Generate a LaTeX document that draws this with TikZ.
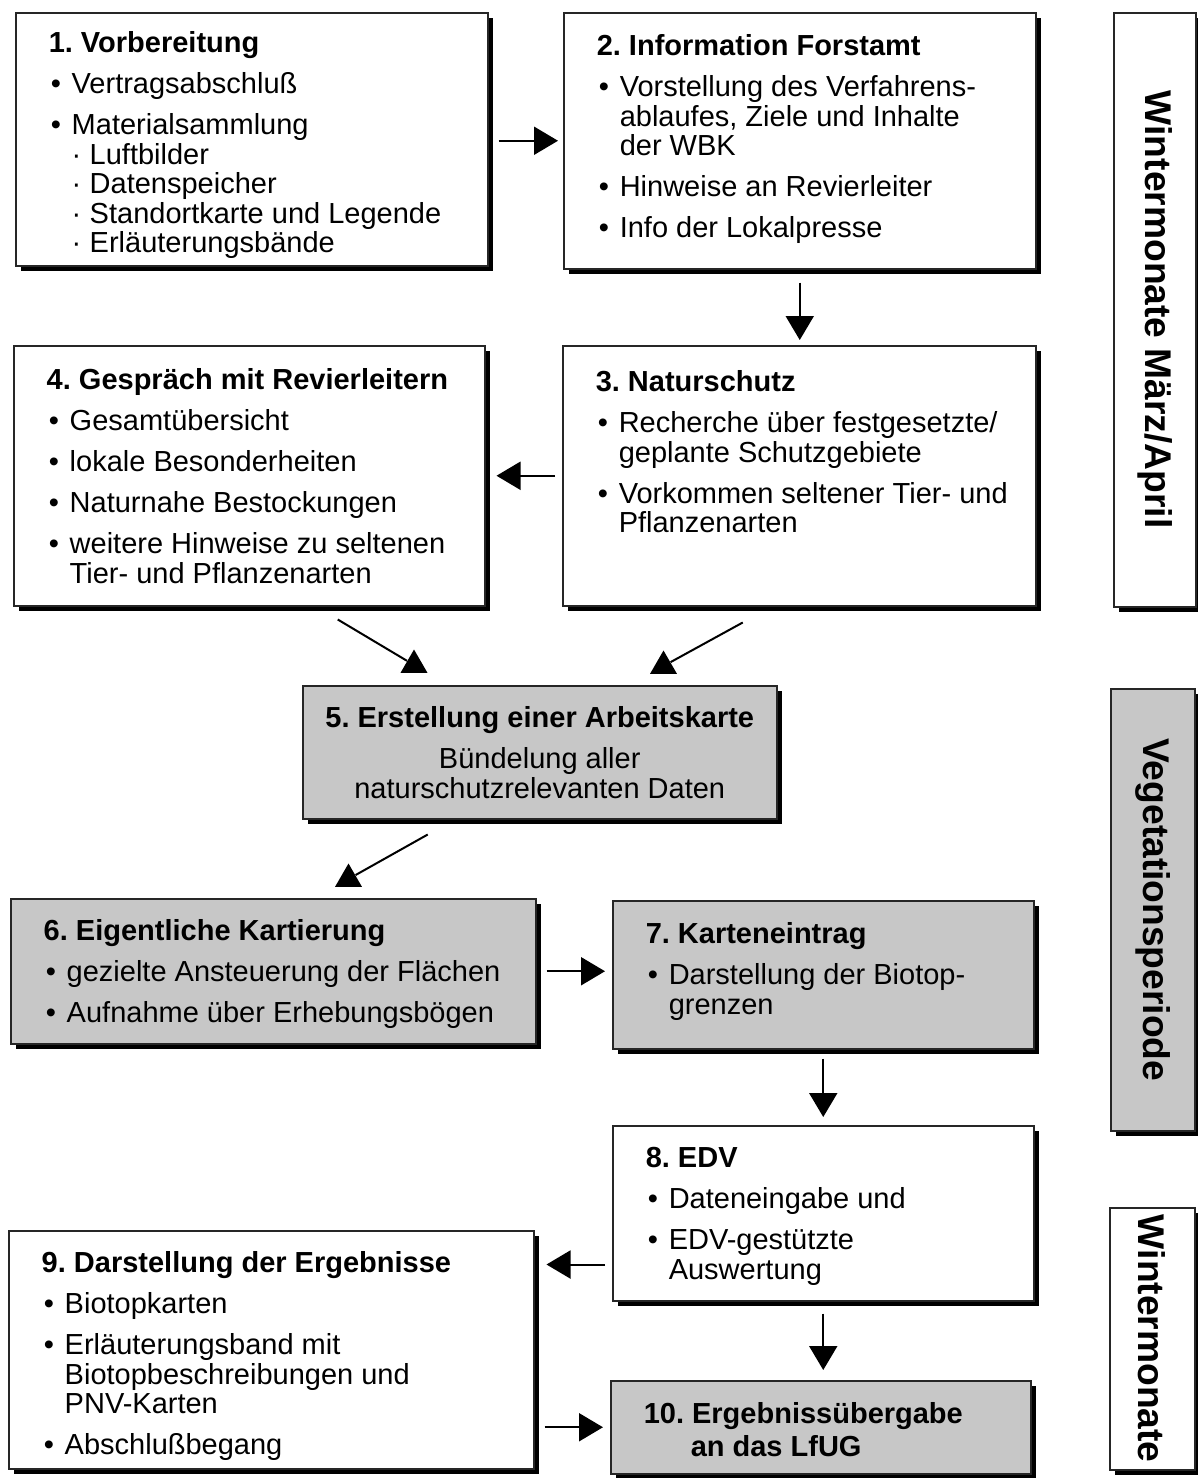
\documentclass[tikz,border=0pt]{standalone}
\usepackage{fontspec}
\setmainfont{Liberation Sans}
\usetikzlibrary{arrows.meta,shadows,shapes.geometric}

\newdimen\pxu \pxu=0.5pt
\newcommand\panel[4]{\parbox[b][#2\pxu][t]{#1\pxu}{\frenchspacing
  \rightskip=0pt plus 1fil\leftskip=33\pxu
  \fontsize{14.5}{14.75}\selectfont\rule{0pt}{#3\pxu}#4}}
\newcommand\cpanel[4]{\parbox[b][#2\pxu][t]{#1\pxu}{\frenchspacing\centering
  \fontsize{14.5}{14.75}\selectfont\rule{0pt}{#3\pxu}#4}}
\newcommand\itm[1]{\par\vspace{11.5\pxu}\hangindent=23\pxu\hangafter=1
  \hspace*{2\pxu}\makebox[21\pxu][l]{\textbullet}#1}
\newcommand\sub[1]{\par\hspace*{23\pxu}\makebox[18\pxu][l]{·}#1}
\newcommand\sidetext[1]{\rotatebox{-90}{\fontsize{18.6}{20}\selectfont\bfseries #1}}

\begin{document}
\begin{tikzpicture}[x=0.5pt, y=-0.5pt,
  box/.style = {draw=black!85, line width=0.75pt, fill=white,
    anchor=north west, inner sep=0pt,
    drop shadow={shadow xshift=2.75pt, shadow yshift=-2.75pt,
      fill=black, opacity=1}},
  shaded/.style = {box, fill=black!22},
  link/.style = {line width=1pt, -{Triangle[length=12pt,width=14pt]}},
  plain/.style = {line width=1pt},
  uptip/.style = {regular polygon, regular polygon sides=3,
    fill=black, inner sep=0pt, minimum size=15.5pt}]
  \fill[white] (0,0) rectangle (1198,1478);
  \useasboundingbox (0,0) rectangle (1198,1478);

  \node[box] (b1) at (15,12) {\panel{472}{253}{40}{\textbf{1. Vorbereitung}
    \itm{Vertragsabschluß}
    \itm{Materialsammlung}
    \sub{Luftbilder}
    \sub{Datenspeicher}
    \sub{Standortkarte und Legende}
    \sub{Erläuterungsbände}}};
  \node[box] (b2) at (563,12) {\panel{472}{256}{43}{\textbf{2. Information Forstamt}
    \itm{Vorstellung des Verfahrens-\\ablaufes, Ziele und Inhalte\\der WBK}
    \itm{Hinweise an Revierleiter}
    \itm{Info der Lokalpresse}}};
  \node[box] (b3) at (562,345) {\panel{473}{260}{46}{\textbf{3. Naturschutz}
    \itm{Recherche über festgesetzte/\\geplante Schutzgebiete}
    \itm{Vorkommen seltener Tier- und\\Pflanzenarten}}};
  \node[box] (b4) at (13,345) {\panel{471}{260}{44}{\textbf{4. Gespräch mit Revierleitern}
    \itm{Gesamtübersicht}
    \itm{lokale Besonderheiten}
    \itm{Naturnahe Bestockungen}
    \itm{weitere Hinweise zu seltenen\\Tier- und Pflanzenarten}}};
  \node[shaded] (b5) at (302,685) {\cpanel{474}{133}{42}{\textbf{5. Erstellung einer Arbeitskarte}\par
    \vspace{11.5\pxu}Bündelung aller\\naturschutzrelevanten Daten}};
  \node[shaded] (b6) at (10,898) {\panel{525}{145}{42}{\textbf{6. Eigentliche Kartierung}
    \itm{gezielte Ansteuerung der Flächen}
    \itm{Aufnahme über Erhebungsbögen}}};
  \node[shaded] (b7) at (612,900) {\panel{421}{148}{43}{\textbf{7. Karteneintrag}
    \itm{Darstellung der Biotop-\\grenzen}}};
  \node[box] (b8) at (612,1125) {\panel{421}{175}{42}{\textbf{8. EDV}
    \itm{Dateneingabe und}
    \itm{EDV-gestützte\\Auswertung}}};
  \node[box] (b9) at (8,1230) {\panel{525}{238}{42}{\textbf{9. Darstellung der Ergebnisse}
    \itm{Biotopkarten}
    \itm{Erläuterungsband mit\\Biotopbeschreibungen und\\PNV-Karten}
    \itm{Abschlußbegang}}};
  \node[shaded] (b10) at (610,1380) {\panel{420}{93}{43}{\hangindent=47\pxu\hangafter=1
    {\bfseries 10. Ergebnissübergabe\\[3\pxu]an das LfUG}}};

  \node[box, minimum width=41pt, minimum height=297pt] (s1) at (1113,12)
    {\sidetext{Wintermonate März/April}};
  \node[shaded, minimum width=42pt, minimum height=221pt] (s2) at (1110,688)
    {\sidetext{Vegetationsperiode}};
  \node[box, minimum width=42.5pt, minimum height=131pt] (s3) at (1109,1207)
    {\sidetext{Wintermonate}};

  \node[uptip] (t45) at (414,665) {};
  \node[uptip] (t35) at (663.5,666) {};
  \node[uptip] (t56) at (348.5,879) {};
  \coordinate (e8) at ([yshift=18.5pt]b8.south west);

  \draw[link, shorten <=5pt, shorten >=2.5pt] (b1.east |- b2) -- (b2);
  \draw[link, shorten <=6.5pt, shorten >=2.5pt] (b2.south) -- (b2.south |- b3.north);
  \draw[link, shorten <=3.5pt, shorten >=5.5pt] (b3) -- (b4);
  \draw[plain] ([shift={(88.5,13)}]b4.south) -- (t45);
  \draw[plain] ([shift={(-56.5,16)}]b3.south) -- (t35);
  \draw[plain] ([shift={(-112,15)}]b5.south) -- (t56);
  \draw[link, shorten <=5pt, shorten >=3.5pt] (b6) -- (b6 -| b7.west);
  \draw[link, shorten <=4.5pt, shorten >=4pt] (b7.south) -- (b8.north);
  \draw[link, shorten <=3.5pt, shorten >=6pt] (e8) -- (e8 -| b9.east);
  \draw[link, shorten <=6pt, shorten >=5pt] (b8.south) -- (b8.south |- b10.north);
  \draw[link, shorten <=5pt, shorten >=3.5pt] (b9.east |- b10) -- (b10);
\end{tikzpicture}
\end{document}
